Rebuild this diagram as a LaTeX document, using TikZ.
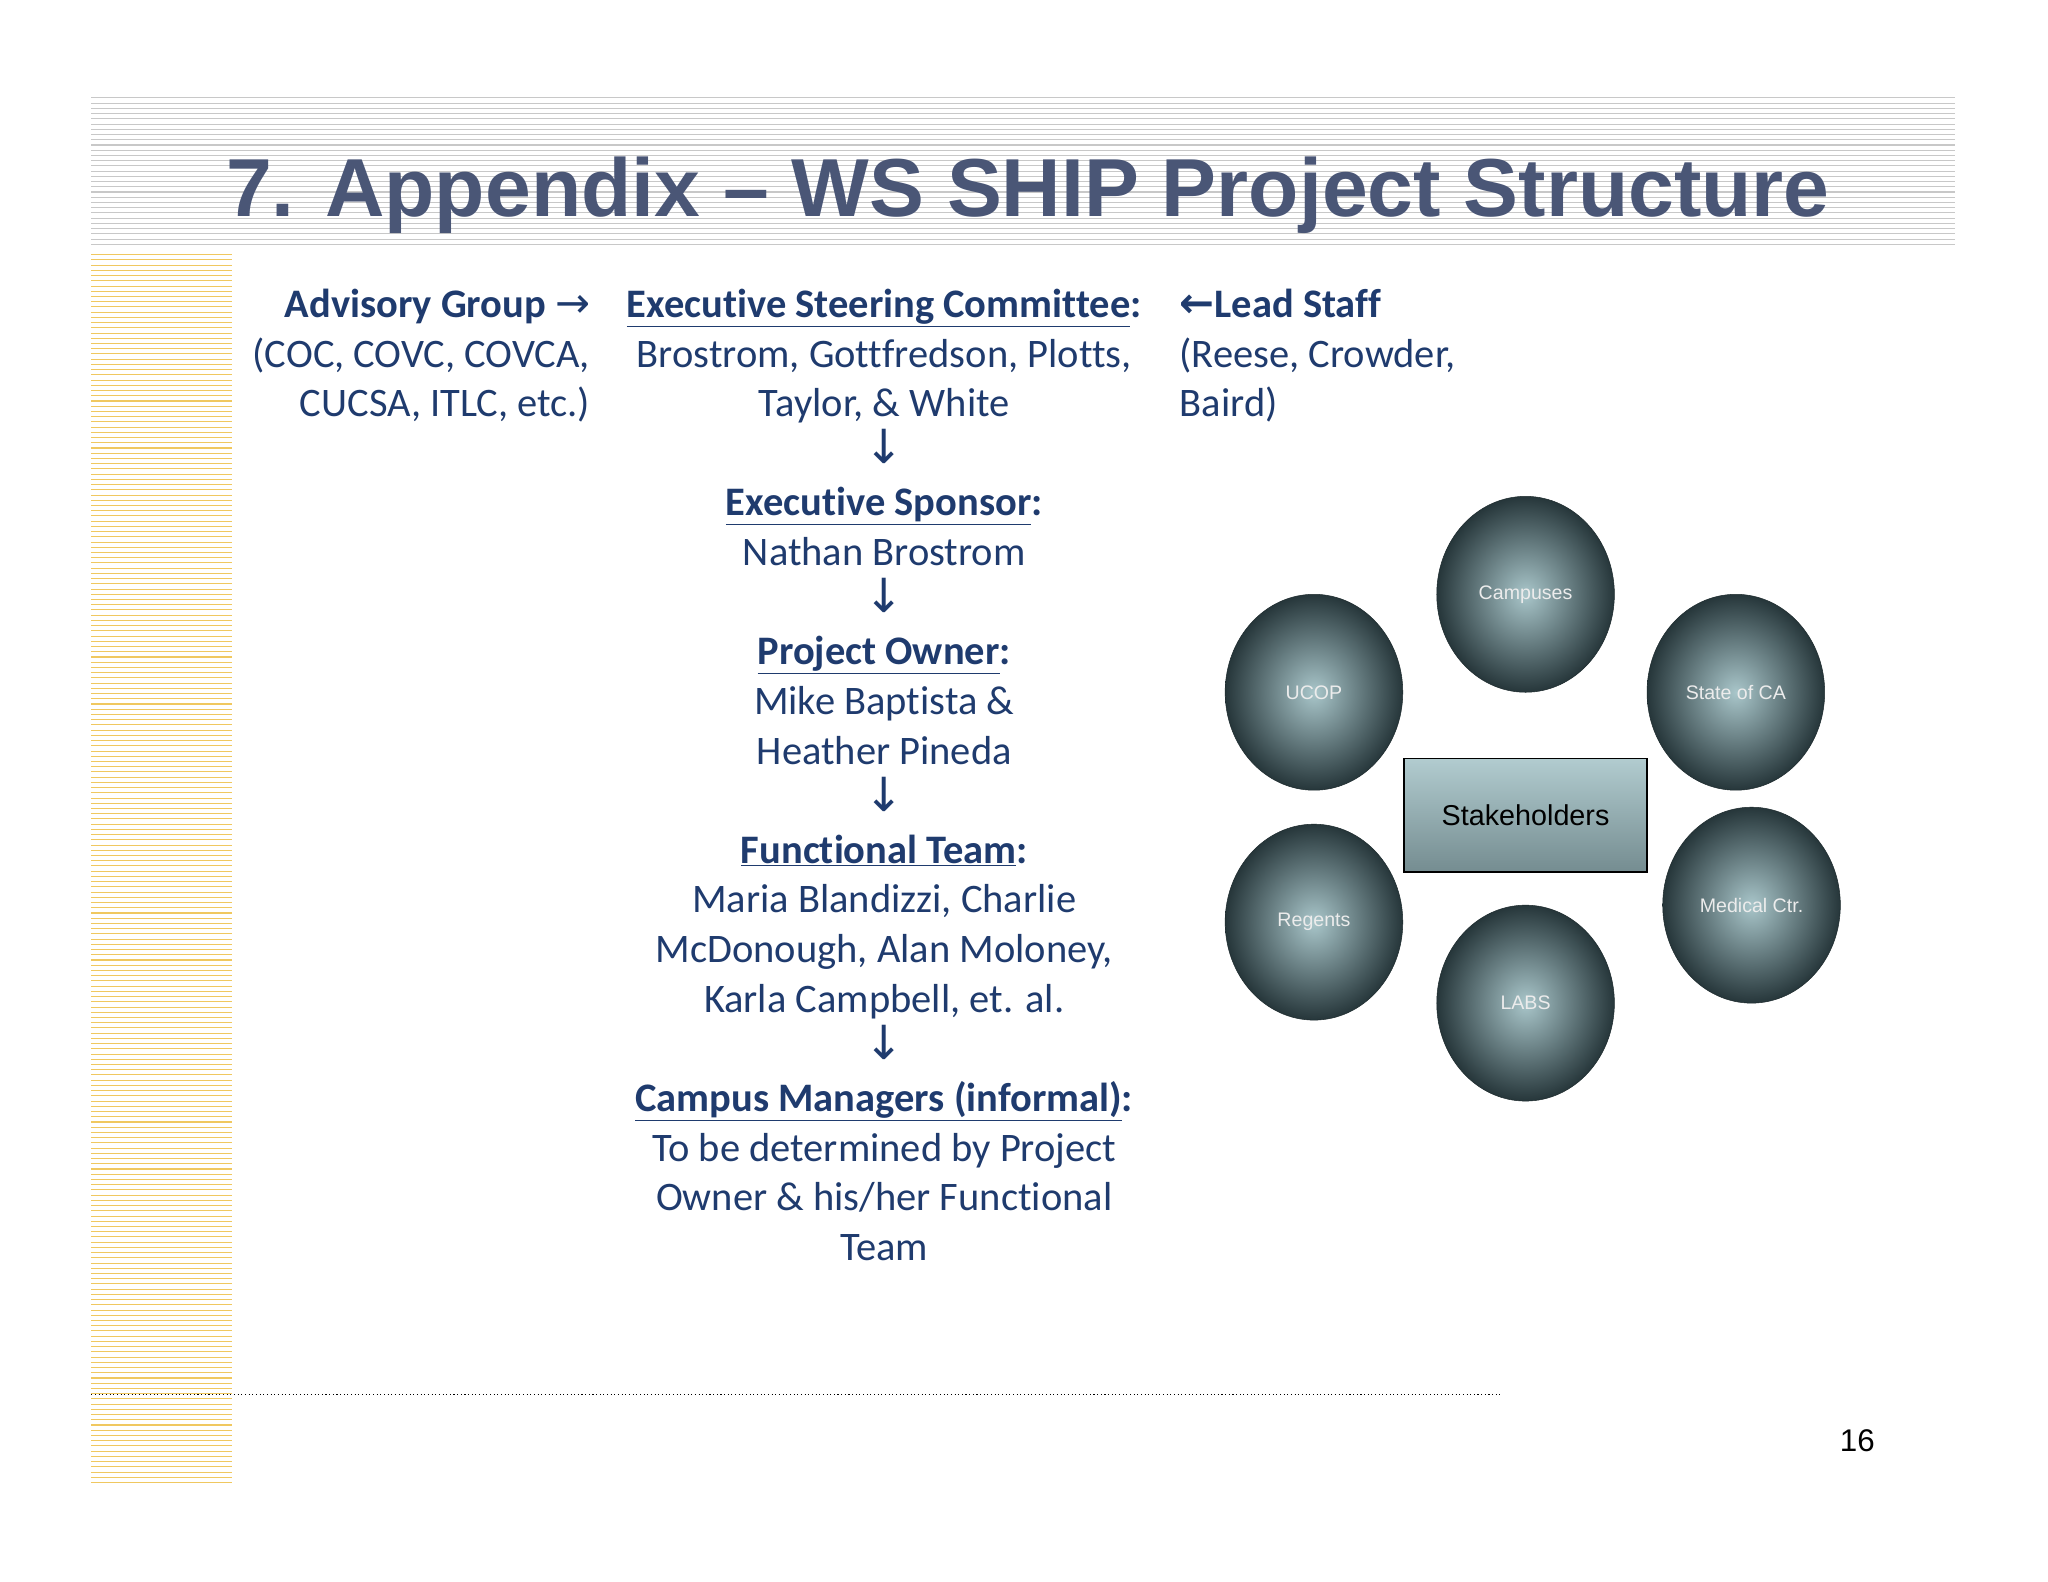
\documentclass[tikz,border=0pt]{standalone}
\usepackage{fontspec}
\setmainfont[Ligatures={NoCommon}]{Carlito}
\newfontfamily\arial{Liberation Sans}
\newfontfamily\dejavu{DejaVu Sans}
\definecolor{txt}{HTML}{1F3B6E}
\definecolor{ttl}{HTML}{4A5676}
\definecolor{stripeg}{HTML}{C8C8C8}
\definecolor{stripey}{HTML}{F0C860}
\definecolor{ballc}{HTML}{A9C6CA}
\definecolor{balle}{HTML}{26363A}
\usetikzlibrary{shapes.geometric}
\begin{document}
\begin{tikzpicture}[x=1pt,y=-1pt,
  body/.style={font=\fontsize{31}{36}\selectfont,text=txt,inner sep=0pt,anchor=base},
  arr/.style={font=\dejavu\fontsize{36}{40}\selectfont,text=txt,inner sep=0pt,anchor=base},
  ball/.style={ellipse,minimum width=136pt,minimum height=150pt,inner sep=0pt,draw=balle!80!black,
     inner color=ballc,outer color=balle,text=white!85!gray,font=\arial\fontsize{15}{18}\selectfont}]
\fill[white] (0,0) rectangle (1568,1211);
\useasboundingbox (0,0) rectangle (1568,1211);
\foreach \y in {75,79,...,188} \draw[stripeg,line width=0.8pt] (70,\y) -- (1497,\y);
\foreach \y in {195,199,...,1138} \draw[stripey,line width=0.8pt] (70,\y) -- (178,\y);
\node[font=\arial\bfseries\fontsize{63}{70}\selectfont,text=ttl,anchor=base] (title) at (787,166) {7. Appendix – WS SHIP Project Structure};
\draw[black,dotted,line width=0.8pt] (70,1068) -- (1150,1068);
\node[font=\arial\fontsize{24}{28}\selectfont,anchor=base] (pg) at (1422,1111) {16};
\node[body,anchor=base east] (a1) at (452,243) {\textbf{Advisory Group} {\dejavu\fontsize{32}{30}\selectfont →}};
\node[body,anchor=base east] (a2) at (452,281) {(COC, COVC, COVCA,};
\node[body,anchor=base east] (a3) at (452,319) {CUCSA, ITLC, etc.)};
\node[body,anchor=base west] (l1) at (903,243) {\textbf{{\dejavu\fontsize{32}{30}\selectfont ←}Lead Staff}};
\node[body,anchor=base west] (l2) at (903,281) {(Reese, Crowder,};
\node[body,anchor=base west] (l3) at (903,319) {Baird)};
\node[body] (c1) at (677,243) {\textbf{\underline{Executive Steering Committee}:}};
\node[body] (c2) at (677,281) {Brostrom, Gottfredson, Plotts,};
\node[body] (c3) at (677,319) {Taylor, \& White};
\node[arr] (d1) at (677,355) {↓};
\node[body] (c4) at (677,395) {\textbf{\underline{Executive Sponsor}:}};
\node[body] (c5) at (677,433) {Nathan Brostrom};
\node[arr] (d2) at (677,469) {↓};
\node[body] (c6) at (677,509) {\textbf{\underline{Project Owner}:}};
\node[body] (c7) at (677,547) {Mike Baptista \&};
\node[body] (c8) at (677,585) {Heather Pineda};
\node[arr] (d3) at (677,621) {↓};
\node[body] (c9) at (677,661) {\textbf{\underline{Functional Team}:}};
\node[body] (c10) at (677,699) {Maria Blandizzi, Charlie};
\node[body] (c11) at (677,737) {McDonough, Alan Moloney,};
\node[body] (c12) at (677,775) {Karla Campbell, et. al.};
\node[arr] (d4) at (677,811) {↓};
\node[body] (c13) at (677,851) {\textbf{\underline{Campus Managers (informal)}:}};
\node[body] (c14) at (677,889) {To be determined by Project};
\node[body] (c15) at (677,927) {Owner \& his/her Functional};
\node[body] (c16) at (677,965) {Team};
\node[ball] (campus) at (1168,455) {Campuses};
\node[ball] (ucop) at (1006,530) {UCOP};
\node[ball] (state) at (1329,530) {State of CA};
\node[ball] (regents) at (1006,706) {Regents};
\node[ball] (med) at (1341,693) {Medical Ctr.};
\node[ball] (labs) at (1168,768) {LABS};
\node[draw=black,line width=1pt,minimum width=186pt,minimum height=87pt,top color=ballc!90!white,bottom color=ballc!60!balle,
  font=\arial\fontsize{22}{26}\selectfont] (stake) at (1168,624) {Stakeholders};
\end{tikzpicture}
\end{document}
